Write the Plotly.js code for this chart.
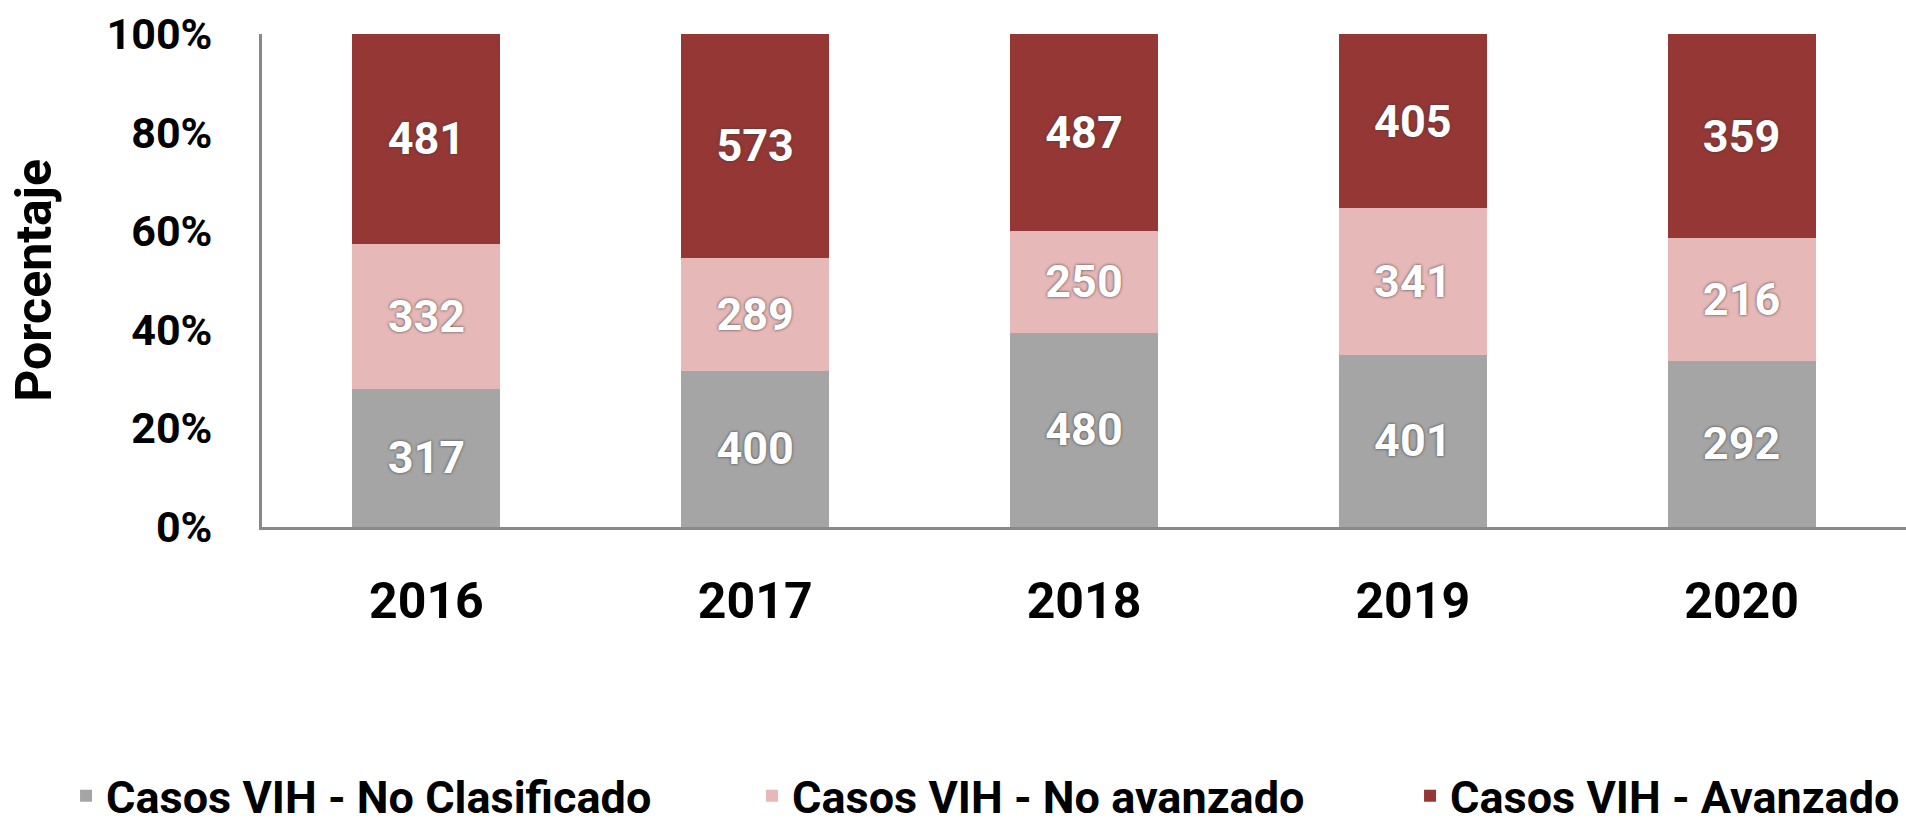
<!DOCTYPE html>
<html>
<head>
<meta charset="utf-8">
<script src="https://cdn.plot.ly/plotly-3.0.1.min.js"></script>
<style>
  html, body { margin: 0; padding: 0; background: #ffffff; }
  #chart { width: 1906px; height: 825px; }
</style>
</head>
<body>
<div id="chart"></div>
<script>
const years = ['2016', '2017', '2018', '2019', '2020'];
const noClasificado = [317, 400, 480, 401, 292];
const noAvanzado = [332, 289, 250, 341, 216];
const avanzado = [481, 573, 487, 405, 359];
const yTickVals = [0, 20, 40, 60, 80, 100];
const yTickText = ['0%', '20%', '40%', '60%', '80%', '100%'];

const FONT = 'Roboto, "DejaVu Sans Condensed", sans-serif';

function barTrace(name, values, color, legendWidth) {
  return {
    type: 'bar',
    name: name,
    x: years,
    y: values,
    text: values.map(String),
    texttemplate: '%{text}',
    textposition: 'inside',
    insidetextanchor: 'middle',
    textangle: 0,
    constraintext: 'none',
    textfont: { family: FONT, size: 45, color: '#ffffff', weight: 'bold', shadow: '0px 0px 3px #3a3a3a' },
    marker: { color: color, line: { width: 0 } },
    legendwidth: legendWidth,
    hoverinfo: 'skip'
  };
}

const data = [
  barTrace('Casos VIH - No Clasificado', noClasificado, '#A5A5A5', 641),
  barTrace('Casos VIH - No avanzado', noAvanzado, '#E6B8B7', 613),
  barTrace('Casos VIH - Avanzado', avanzado, '#953735', 445)
];

const layout = {
  width: 1906,
  height: 825,
  margin: { l: 262, r: 0, t: 34, b: 298, pad: 0, autoexpand: false },
  paper_bgcolor: '#ffffff',
  plot_bgcolor: '#ffffff',
  barmode: 'stack',
  barnorm: 'percent',
  bargap: 0.55,
  font: { family: FONT, color: '#000000' },
  xaxis: {
    type: 'category',
    showline: true,
    linecolor: '#898989',
    linewidth: 3,
    showgrid: false,
    zeroline: false,
    ticks: '',
    ticklabelstandoff: 28,
    tickfont: { family: FONT, size: 50, color: '#000000', weight: 'bold' }
  },
  yaxis: {
    range: [0, 100],
    tickvals: yTickVals,
    ticktext: yTickText,
    showline: true,
    linecolor: '#898989',
    linewidth: 3,
    showgrid: false,
    zeroline: false,
    ticks: '',
    ticklabelstandoff: 38,
    tickfont: { family: FONT, size: 43, color: '#000000', weight: 'bold' },
    title: { text: 'Porcentaje', standoff: 40, font: { family: FONT, size: 50, color: '#000000', weight: 'bold' } }
  },
  showlegend: true,
  legend: {
    orientation: 'h',
    xref: 'paper',
    yref: 'paper',
    x: -0.1192,
    xanchor: 'left',
    y: -0.5456,
    yanchor: 'middle',
    traceorder: 'normal',
    font: { family: FONT, size: 45, color: '#000000', weight: 'bold' },
    bgcolor: 'rgba(0,0,0,0)'
  }
};

Plotly.newPlot('chart', data, layout, { displayModeBar: false, staticPlot: true });
</script>
</body>
</html>
